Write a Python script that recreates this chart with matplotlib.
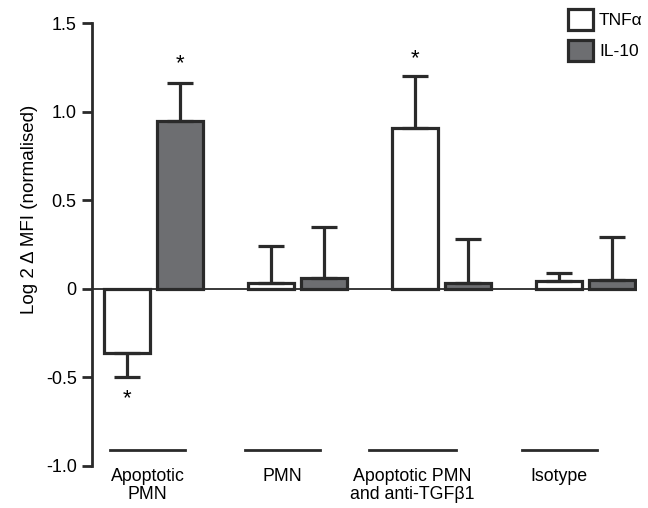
import numpy as np
from matplotlib import pyplot as plt
from matplotlib.patches import Patch

plt.rcParams['font.family'] = ['Liberation Sans', 'DejaVu Sans']

# data
groups = ["Apoptotic\nPMN", "PMN", "Apoptotic PMN\nand anti-TGF\u03b21", "Isotype"]
tnf = [-0.36, 0.03, 0.91, 0.045]
tnf_err = [0.14, 0.21, 0.29, 0.045]
il10 = [0.945, 0.06, 0.03, 0.05]
il10_err = [0.215, 0.29, 0.25, 0.24]
yticks = [-1.0, -0.5, 0, 0.5, 1.0, 1.5]
ytick_labels = ["-1.0", "-0.5", "0", "0.5", "1.0", "1.5"]

dark = "#2a2a2a"
grey = "#6d6e71"

fig = plt.figure(figsize=(6.48, 5.08), dpi=100)
ax = fig.add_axes([0.142, 0.0827, 0.841, 0.872])

x = np.arange(len(groups))
width = 0.32
off = 0.184


def one_sided(vals, errs):
    # error bar only on the side away from zero
    lo = [e if v < 0 else 0 for v, e in zip(vals, errs)]
    hi = [e if v >= 0 else 0 for v, e in zip(vals, errs)]
    return [lo, hi]


ekw = dict(elinewidth=2.3, capthick=2.3, ecolor=dark, capsize=9.5)
ax.bar(x - off, tnf, width, color="white", edgecolor=dark, linewidth=2.3,
       yerr=one_sided(tnf, tnf_err), error_kw=ekw, zorder=3)
ax.bar(x + off, il10, width, color=grey, edgecolor=dark, linewidth=2.3,
       yerr=one_sided(il10, il10_err), error_kw=ekw, zorder=3)

ax.axhline(0, color=dark, linewidth=1.3, zorder=4)

# asterisks
ax.text(x[0] - off, -0.62, "*", ha="center", va="center", fontsize=16)
ax.text(x[0] + off, 1.27, "*", ha="center", va="center", fontsize=16)
ax.text(x[2] - off, 1.30, "*", ha="center", va="center", fontsize=16)

# category bars and labels under the plot
label_pos = [-0.04, 0.90, 1.80, 2.82]
half_len = [0.26, 0.26, 0.30, 0.26]
for p, h, g in zip(label_pos, half_len, groups):
    ax.plot([p - h, p + h], [-0.91, -0.91], color=dark, linewidth=2, clip_on=False)
    ax.text(p, -1.01, g, ha="center", va="top", fontsize=12.8, linespacing=1.1)

ax.set_xlim(-0.425, 3.36)
ax.set_ylim(-1.0, 1.5)
ax.set_xticks([])
ax.set_yticks(yticks)
ax.set_yticklabels(ytick_labels, fontsize=13)
ax.tick_params(axis="y", length=7, width=2, color=dark, pad=4)
for s in ["top", "right", "bottom"]:
    ax.spines[s].set_visible(False)
ax.spines["left"].set_linewidth(2)
ax.spines["left"].set_color(dark)

ax.set_ylabel("Log 2 \u0394 MFI (normalised)", fontsize=13.5)
ax.yaxis.set_label_coords(-0.10, 0.58)

handles = [Patch(facecolor="white", edgecolor=dark, linewidth=2.3, label="TNF\u03b1"),
           Patch(facecolor=grey, edgecolor=dark, linewidth=2.3, label="IL-10")]
fig.legend(handles=handles, loc="upper left", bbox_to_anchor=(0.852, 1.013),
           frameon=False, fontsize=12.5, handlelength=1.45, handleheight=1.5,
           handletextpad=0.35, labelspacing=0.55)

plt.savefig("out.png", dpi=100)
